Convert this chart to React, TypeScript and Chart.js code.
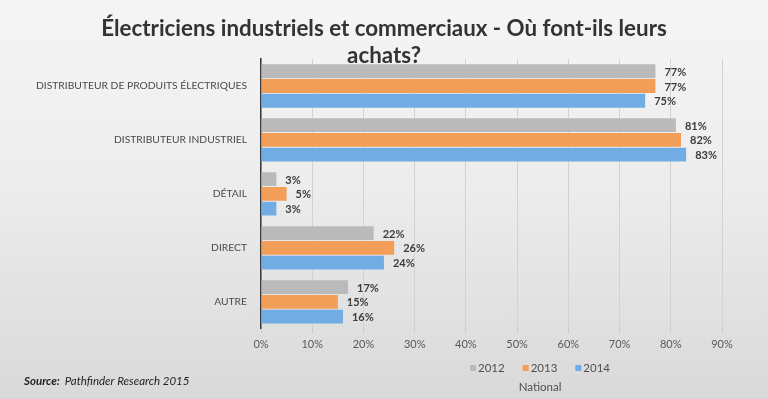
import React, { useEffect, useRef } from "react";
import { Chart, registerables } from "chart.js";

Chart.register(...registerables);

const titleLines = ["Électriciens industriels et commerciaux - Où font-ils leurs", "achats?"];
const categories = [
  "DISTRIBUTEUR DE PRODUITS ÉLECTRIQUES",
  "DISTRIBUTEUR INDUSTRIEL",
  "DÉTAIL",
  "DIRECT",
  "AUTRE",
];
const seriesLabels = ["2012", "2013", "2014"];
const values2012 = [77, 81, 3, 22, 17];
const values2013 = [77, 82, 5, 26, 15];
const values2014 = [75, 83, 3, 24, 16];
const seriesColors = ["#bababa", "#f29e58", "#71ade2"];
const xTicks = [0, 10, 20, 30, 40, 50, 60, 70, 80, 90];
const axisTitle = "National";
const sourceBold = "Source:";
const sourceText = "Pathfinder Research 2015";

const FONT = "Lato, 'Open Sans', sans-serif";

const decorPlugin = {
  id: "decor",
  afterDatasetsDraw(chart: any) {
    const ctx = chart.ctx;
    ctx.save();
    ctx.font = `bold 11px ${FONT}`;
    ctx.fillStyle = "#3c3c3c";
    ctx.textAlign = "left";
    ctx.textBaseline = "middle";
    chart.data.datasets.forEach((ds: any, di: number) => {
      const meta = chart.getDatasetMeta(di);
      meta.data.forEach((bar: any, i: number) => {
        ctx.fillText(`${ds.data[i]}%`, bar.x + 9, bar.y + 1);
      });
    });
    ctx.restore();
  },
  afterDraw(chart: any) {
    const ctx = chart.ctx;
    ctx.save();
    // title
    ctx.fillStyle = "#333333";
    ctx.textAlign = "center";
    ctx.textBaseline = "alphabetic";
    let size = 24;
    ctx.font = `bold ${size}px ${FONT}`;
    const w = ctx.measureText(titleLines[0]).width;
    size = Math.min(26, size * (566 / w));
    ctx.font = `bold ${size}px ${FONT}`;
    ctx.fillText(titleLines[0], 384, 36);
    ctx.fillText(titleLines[1], 384, 63);

    // legend
    const legendCenter = 540;
    const legendY = 368;
    ctx.font = `11.5px ${FONT}`;
    ctx.textBaseline = "middle";
    ctx.textAlign = "left";
    const sq = 6;
    const gap = 2;
    const spacing = 18;
    const widths = chart.data.datasets.map((d: any) => sq + gap + ctx.measureText(d.label).width);
    const total = widths.reduce((a: number, b: number) => a + b, 0) + spacing * (widths.length - 1);
    let x = legendCenter - total / 2;
    chart.data.datasets.forEach((d: any, i: number) => {
      ctx.fillStyle = d.backgroundColor;
      ctx.fillRect(x, legendY - sq / 2, sq, sq);
      ctx.fillStyle = "#4f4f4f";
      ctx.fillText(d.label, x + sq + gap, legendY + 0.5);
      x += widths[i] + spacing;
    });
    // axis title
    ctx.textAlign = "center";
    ctx.fillText(axisTitle, legendCenter, 387);

    // source
    ctx.textAlign = "left";
    ctx.textBaseline = "alphabetic";
    ctx.fillStyle = "#1e1e1e";
    ctx.font = `italic bold 11.5px ${FONT}`;
    ctx.fillText(sourceBold, 24, 385);
    const sw = ctx.measureText(sourceBold + "  ").width;
    ctx.font = `italic 11.5px ${FONT}`;
    ctx.fillText(sourceText, 24 + sw, 385);
    ctx.restore();
  },
};

export default function App() {
  const ref = useRef<HTMLCanvasElement>(null);
  useEffect(() => {
    if (!ref.current) return;
    const chart = new Chart(ref.current, {
      type: "bar",
      data: {
        labels: categories,
        datasets: [
          { label: seriesLabels[0], data: values2012, backgroundColor: seriesColors[0] },
          { label: seriesLabels[1], data: values2013, backgroundColor: seriesColors[1] },
          { label: seriesLabels[2], data: values2014, backgroundColor: seriesColors[2] },
        ],
      },
      options: {
        indexAxis: "y",
        animation: false,
        responsive: true,
        maintainAspectRatio: false,
        categoryPercentage: 0.82,
        barPercentage: 0.94,
        layout: { padding: { top: 59, right: 46, bottom: 43, left: 0 } },
        plugins: {
          legend: { display: false },
          title: { display: false },
          tooltip: { enabled: false },
        },
        scales: {
          x: {
            min: 0,
            max: 90,
            afterBuildTicks(scale: any) {
              scale.ticks = xTicks.map((v) => ({ value: v }));
            },
            grid: { color: "#d2d2d2", tickLength: 4, tickColor: "#c8c8c8", lineWidth: 1 },
            border: { display: false },
            ticks: {
              color: "#595959",
              font: { family: FONT, size: 11 },
              padding: 5,
              callback: (v: any) => `${v}%`,
            },
          },
          y: {
            afterFit(scale: any) {
              scale.width = 261;
            },
            grid: { display: false, drawTicks: false },
            border: { display: true, color: "#3a3a3a", width: 1.5 },
            ticks: {
              color: "#4a4a4a",
              font: { family: FONT, size: 10.3 },
              padding: 14,
            },
          },
        },
      },
      plugins: [decorPlugin],
    });
    return () => chart.destroy();
  }, []);
  return (
    <div
      style={{
        position: "fixed",
        left: 0,
        top: 0,
        width: 768,
        height: 399,
        background: "linear-gradient(to bottom, #f5f5f5 0%, #ededed 45%, #d9d9d9 100%)",
      }}
    >
      <canvas ref={ref} />
    </div>
  );
}
